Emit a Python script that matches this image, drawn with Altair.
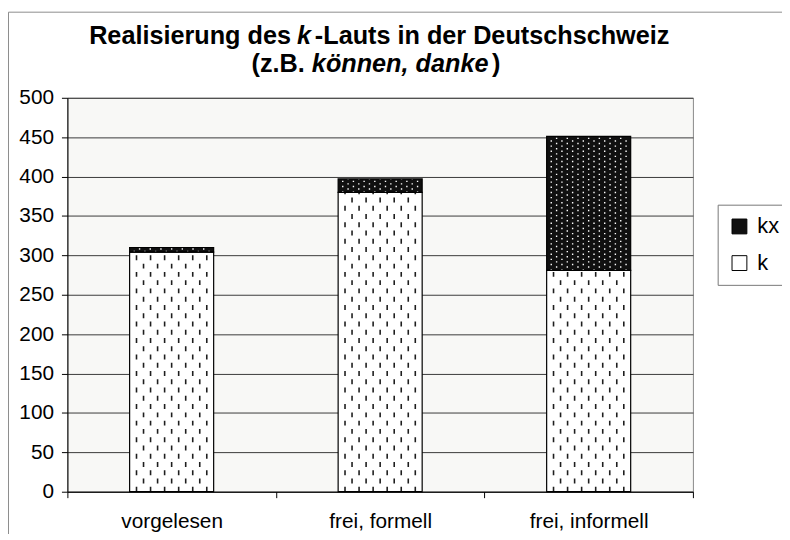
import altair as alt
import pandas as pd

# ---- data ----
categories = ["vorgelesen", "frei, formell", "frei, informell"]
k_values = [304, 380, 281]
kx_values = [6, 17, 170]
series_names = ["kx", "k"]
y_ticks = [0, 50, 100, 150, 200, 250, 300, 350, 400, 450, 500]
title_line1 = ["Realisierung des ", "k", "-Lauts in der Deutschschweiz"]
title_line2 = ["(z.B. ", "können, danke", ")"]

rows = []
for c, kv, kxv in zip(categories, k_values, kx_values):
    rows.append({"cat": c, "series": "k", "lo": 0, "hi": kv})
    rows.append({"cat": c, "series": "kx", "lo": kv, "hi": kv + kxv})
df = pd.DataFrame(rows)
k_df = df[df["series"] == "k"]
kx_df = df[df["series"] == "kx"]

FONT = "Liberation Sans"
BAND = 0.403

x_enc = alt.X(
    "cat:N",
    sort=categories,
    scale=alt.Scale(paddingInner=0, paddingOuter=0),
    axis=alt.Axis(title=None, labelAngle=0, tickBand="extent", grid=False,
                  labelFont=FONT, labelFontSize=21, labelColor="black",
                  labelPadding=13, tickSize=6, tickColor="black",
                  domainColor="black"),
)
y_enc = alt.Y(
    "lo:Q",
    scale=alt.Scale(domain=[0, 500], nice=False),
    axis=alt.Axis(title=None, values=y_ticks, grid=True, gridColor="#3a3a3a",
                  gridWidth=1, labelFont=FONT, labelFontSize=21,
                  labelColor="black", labelPadding=8, tickSize=6,
                  tickColor="black", domainColor="black"),
)

base = alt.Chart(df).mark_bar(width=alt.RelativeBandSize(BAND)).encode(
    x=x_enc,
    y=y_enc,
    y2="hi:Q",
    color=alt.Color(
        "series:N",
        scale=alt.Scale(domain=series_names, range=["#101010", "#ffffff"]),
        legend=alt.Legend(
            title=None, orient="none", legendX=657, legendY=108,
            padding=11, symbolType="square", symbolSize=225,
            symbolStrokeColor="black", symbolStrokeWidth=1,
            labelFont=FONT, labelFontSize=22, labelColor="black",
            labelOffset=7, rowPadding=15, strokeColor="#777777",
            fillColor="white",
        ),
    ),
)

layers = [base]

# dashed pattern of the "k" segments
for i in range(11):
    layers.append(
        alt.Chart(k_df).mark_rule(
            xOffset=(i - 5) * 7.1, strokeDash=[5, 11.7],
            strokeDashOffset=0 if i % 2 == 0 else 8.35,
            color="#1e1e1e", strokeWidth=1.6, strokeCap="butt",
        ).encode(x=x_enc, y=y_enc, y2="hi:Q")
    )

# dotted pattern of the "kx" segments
for j in range(15):
    layers.append(
        alt.Chart(kx_df).mark_rule(
            xOffset=(j - 7) * 5.4, strokeDash=[1.4, 3.8],
            strokeDashOffset=0 if j % 2 == 0 else 2.6,
            color="white", strokeWidth=1.4, strokeCap="butt",
        ).encode(x=x_enc, y=y_enc, y2="hi:Q")
    )

# bar outlines
layers.append(
    alt.Chart(df).mark_bar(width=alt.RelativeBandSize(BAND), fillOpacity=0,
                           stroke="black", strokeWidth=1.2)
    .encode(x=x_enc, y=y_enc, y2="hi:Q")
)

one = alt.Data(values=[{"d": 0}])


def txt(s, x, y, italic=False):
    kw = dict(text=s, align="left", baseline="alphabetic", font=FONT,
              fontSize=25.5, fontWeight="bold", color="black")
    if italic:
        kw["fontStyle"] = "italic"
    return alt.Chart(one).mark_text(**kw).encode(x=alt.value(x), y=alt.value(y))


layers += [
    txt(title_line1[0], 22, -54),
    txt(title_line1[1], 232, -54, italic=True),
    txt(title_line1[2], 250, -54),
    txt(title_line2[0], 186, -26),
    txt(title_line2[1], 247, -26, italic=True),
    txt(title_line2[2], 429, -26),
]

# outer chart frame
layers.append(
    alt.Chart(one).mark_rect(fillOpacity=0, stroke="#8c8c8c", strokeWidth=1)
    .encode(x=alt.value(-59.5), y=alt.value(-86.5), x2=alt.value(800), y2=alt.value(600))
)

chart = alt.layer(*layers).properties(
    width=632, height=398,
    autosize=alt.AutoSizeParams(type="none"),
    padding={"left": 60, "top": 88, "right": 90, "bottom": 40},
    background="white",
).configure_view(fill="#f8f8f6", stroke="#8a8a8a", strokeWidth=1)

chart.save("out.html", embed_options={"renderer": "svg", "actions": False})
